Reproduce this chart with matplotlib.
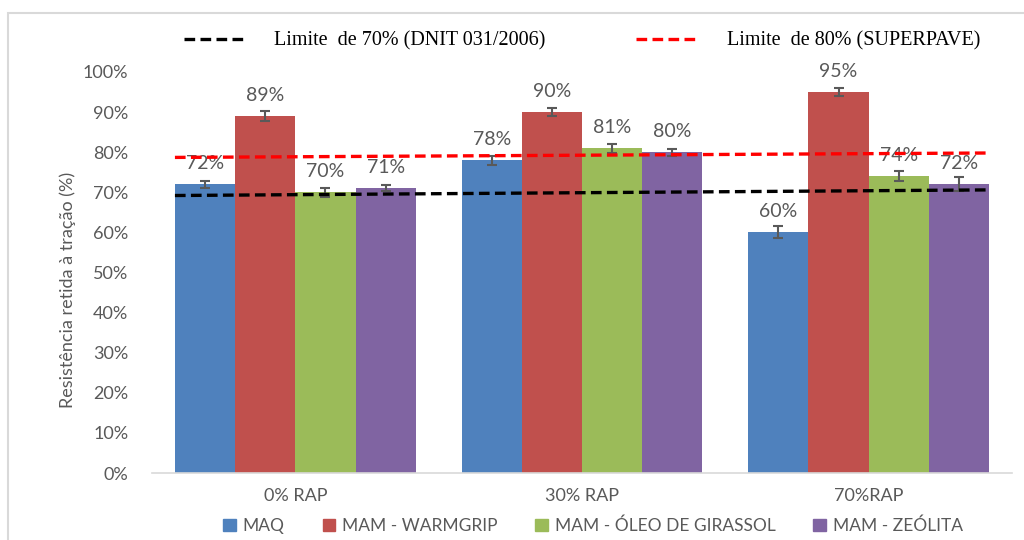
import matplotlib
matplotlib.use("Agg")
import matplotlib.pyplot as plt
from matplotlib.patches import Rectangle
from matplotlib.lines import Line2D
from matplotlib.ticker import FuncFormatter
import numpy as np

# ---- data ----
categories = ["0% RAP", "30% RAP", "70%RAP"]
series_names = ["MAQ", "MAM - WARMGRIP", "MAM - ÓLEO DE GIRASSOL", "MAM - ZEÓLITA"]
maq = [72, 78, 60]
warmgrip = [89, 90, 95]
girassol = [70, 81, 74]
zeolita = [71, 80, 72]
err_maq = [0.9, 1.1, 1.5]
err_warmgrip = [1.2, 1.0, 1.0]
err_girassol = [1.1, 1.1, 1.2]
err_zeolita = [0.8, 0.9, 1.8]
limit70_ends = [69.2, 70.6]
limit80_ends = [78.7, 79.8]
limit70_label = "Limite  de 70% (DNIT 031/2006)"
limit80_label = "Limite  de 80% (SUPERPAVE)"
y_label = "Resistência retida à tração (%)"
y_ticks = [0, 10, 20, 30, 40, 50, 60, 70, 80, 90, 100]

colors = ["#4F81BD", "#C0504D", "#9BBB59", "#8064A2"]
text_gray = "#595959"

fig = plt.figure(figsize=(10.24, 5.4), dpi=100)
ax = fig.add_axes([152 / 1024, 1 - 473 / 540, (1012 - 152) / 1024, (473 - 72) / 540])

x = np.arange(len(categories))
w = 0.21
values = [maq, warmgrip, girassol, zeolita]
errs = [err_maq, err_warmgrip, err_girassol, err_zeolita]
for i, (vals, e) in enumerate(zip(values, errs)):
    xs = x + (i - 1.5) * w
    ax.bar(xs, vals, width=w, color=colors[i], zorder=2, label=series_names[i])
    ax.errorbar(xs, vals, yerr=e, fmt="none", ecolor=text_gray, elinewidth=1.5,
                capsize=3.5, capthick=1.5, zorder=3)
    for xi, v in zip(xs, vals):
        ax.annotate(f"{v}%", (xi, v), xytext=(0, 15), textcoords="offset points",
                    ha="center", va="center", fontsize=14, color=text_gray,
                    family="Lato", zorder=4)

x_ends = [x[0] - 2 * w, x[-1] + 2 * w]
ax.plot(x_ends, limit70_ends, color="black", lw=2.4, dashes=(3.2, 1.6), zorder=5)
ax.plot(x_ends, limit80_ends, color="#FF0000", lw=2.4, dashes=(3.2, 1.6), zorder=5)

ax.set_xlim(-0.5, 2.5)
ax.set_ylim(0, 100)
ax.set_yticks(y_ticks)
ax.yaxis.set_major_formatter(FuncFormatter(lambda v, p: f"{int(v)}%"))
ax.set_xticks(x)
ax.set_xticklabels(categories)
ax.tick_params(axis="both", length=0, labelsize=13, colors=text_gray)
ax.tick_params(axis="y", pad=17)
ax.tick_params(axis="x", pad=11)
for lab in ax.get_xticklabels() + ax.get_yticklabels():
    lab.set_family("Lato")
for s in ["top", "right", "left"]:
    ax.spines[s].set_visible(False)
ax.spines["bottom"].set_color("#D9D9D9")
ax.spines["bottom"].set_linewidth(1.2)

fig.text(68 / 1024, 1 - 290 / 540, y_label, rotation=90, ha="center", va="center",
         fontsize=13, color=text_gray, family="Lato")

# top legend (line styles)
fig.legend(
    handles=[Line2D([], [], color="black", lw=2.4, dashes=(3.2, 1.6)),
             Line2D([], [], color="#FF0000", lw=2.4, dashes=(3.2, 1.6))],
    labels=[limit70_label, limit80_label], loc="center", bbox_to_anchor=(582 / 1024, 1 - 41 / 540),
    ncol=2, frameon=False, handlelength=3.0, columnspacing=4.5, handletextpad=1.5,
    prop={"family": "Liberation Serif", "size": 14.5})

# bottom legend (series)
handles = [Rectangle((0, 0), 1, 1, color=c) for c in colors]
fig.legend(handles, series_names, loc="center", bbox_to_anchor=(593 / 1024, 1 - 526 / 540),
           ncol=4, frameon=False, handlelength=0.7, handleheight=0.7, handletextpad=0.4,
           columnspacing=2.2, prop={"family": "Lato", "size": 12.5}, labelcolor=text_gray)

# outer chart border
fig.patches.append(Rectangle((8 / 1024, -0.05), 1.1, 1 - 13 / 540 + 0.05,
                             transform=fig.transFigure, fill=False,
                             edgecolor="#D9D9D9", lw=1.5))

fig.savefig("out.png", dpi=100)
